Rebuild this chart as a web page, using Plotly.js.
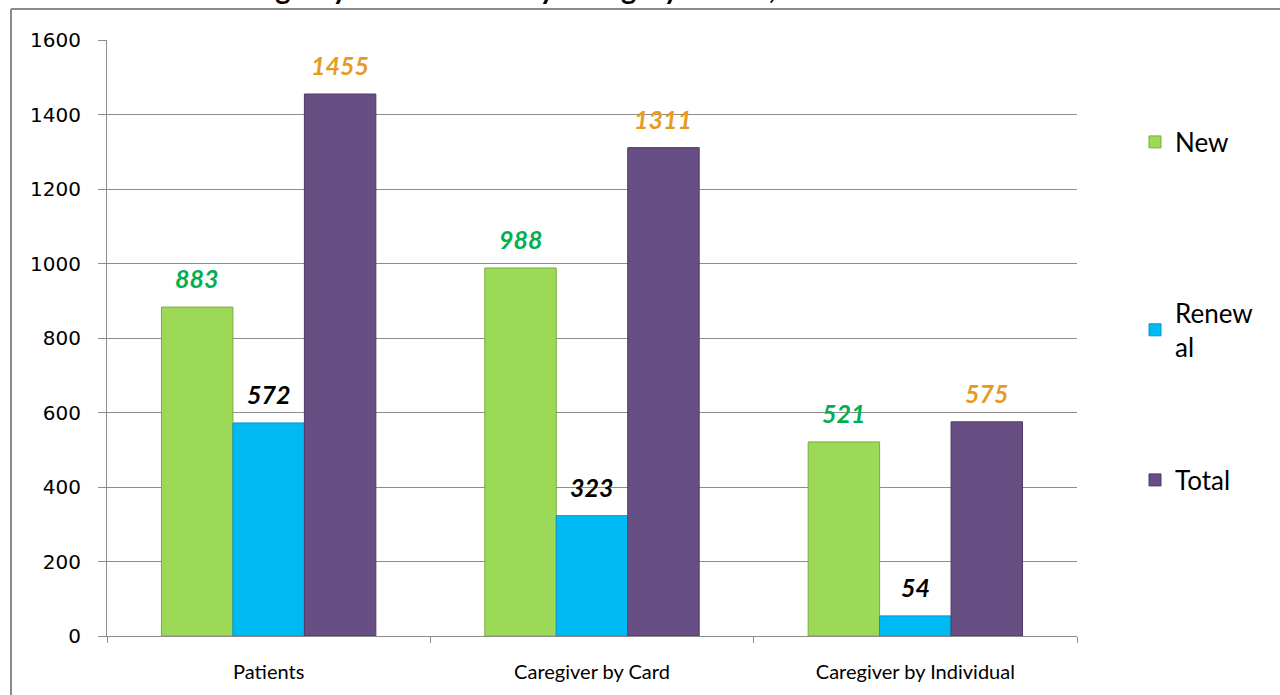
<!DOCTYPE html>
<html>
<head>
<meta charset="utf-8">
<script src="https://cdn.plot.ly/plotly-3.0.1.min.js"></script>
<style>
  html, body { margin: 0; padding: 0; background: #fff; }
  #chart { width: 1280px; height: 695px; }
</style>
</head>
<body>
<div id="chart"></div>
<script>
const categories = ["Patients", "Caregiver by Card", "Caregiver by Individual"];
const seriesNames = ["New", "Renewal", "Total"];
const legendLabels = ["New", "Renew<br>al", "Total"];
const newValues = [883, 988, 521];
const renewalValues = [572, 323, 54];
const totalValues = [1455, 1311, 575];
const yTicks = [0, 200, 400, 600, 800, 1000, 1200, 1400, 1600];
const titleText = "Registry Cards Issued by Category \u2013 New, Renewal and Totals";

const seriesValues = [newValues, renewalValues, totalValues];
const fillColors = ["#9bd956", "#00baf4", "#684f83"];
const lineColors = ["#79ad3e", "#0a94c4", "#4f3a66"];
const labelColors = ["#00b050", "#000000", "#e69b1f"];
const legendIds = ["legend", "legend2", "legend3"];

const bargap = 0.337;
const barWidth = (1 - bargap) / 3;

const traces = seriesValues.map((vals, j) => ({
  type: "bar",
  name: legendLabels[j],
  x: categories,
  y: vals,
  legend: legendIds[j],
  marker: { color: fillColors[j], line: { color: lineColors[j], width: 1 } },
  hoverinfo: "skip"
}));

const annotations = [];
seriesValues.forEach((vals, j) => {
  vals.forEach((v, i) => {
    annotations.push({
      xref: "x", yref: "y",
      x: i + (j - 1) * barWidth,
      y: v,
      text: "<b><i>" + v + "</i></b>",
      showarrow: false,
      yanchor: "bottom",
      yshift: 12,
      font: { family: "Lato, sans-serif", size: 25, color: labelColors[j] }
    });
  });
});

// title, mostly above the page top like the reference
annotations.push({
  xref: "paper", yref: "paper",
  x: 0.545, y: 1.0,
  yshift: 33,
  xanchor: "center", yanchor: "bottom",
  text: "<b>" + titleText + "</b>",
  showarrow: false,
  font: { family: "Lato, sans-serif", size: 29, color: "#000" }
});

const plotL = 107, plotR = 1077, plotT = 40, plotB = 636;
const pw = plotR - plotL, ph = plotB - plotT;
const px2x = p => (p - plotL) / pw;
const py2y = p => (plotB - p) / ph;

const legendFont = { family: "Lato, sans-serif", size: 26, color: "#000" };
const legendCommon = (yc) => ({
  x: px2x(1135), y: py2y(yc), xref: "paper", yref: "paper",
  xanchor: "left", yanchor: "middle",
  bgcolor: "rgba(0,0,0,0)", font: legendFont
});

const layout = {
  width: 1280, height: 695,
  margin: { l: plotL, r: 1280 - plotR, t: plotT, b: 695 - plotB },
  paper_bgcolor: "#fff", plot_bgcolor: "#fff",
  barmode: "group", bargap: bargap, bargroupgap: 0,
  showlegend: true,
  legend: legendCommon(142),
  legend2: legendCommon(330),
  legend3: legendCommon(480),
  xaxis: {
    type: "category",
    showgrid: false,
    showline: true, linecolor: "#8c8c8c", linewidth: 1,
    ticks: "outside", tickson: "boundaries", ticklen: 6, tickcolor: "#8c8c8c",
    ticklabelstandoff: 18,
    tickfont: { family: "Lato, sans-serif", size: 20, color: "#000" },
    zeroline: false, fixedrange: true
  },
  yaxis: {
    range: [0, 1600],
    tickvals: yTicks,
    showgrid: true, gridcolor: "#8c8c8c", gridwidth: 1,
    showline: true, linecolor: "#8c8c8c", linewidth: 1,
    ticks: "outside", ticklen: 8, tickcolor: "#8c8c8c",
    ticklabelstandoff: 13,
    tickfont: { family: "DejaVu Sans, sans-serif", size: 20, color: "#000" },
    zeroline: true, zerolinecolor: "#8c8c8c", zerolinewidth: 1,
    fixedrange: true
  },
  annotations: annotations,
  shapes: [
    { type: "line", xref: "paper", yref: "paper", x0: px2x(11), x1: px2x(11), y0: py2y(700), y1: py2y(9), line: { color: "#8c8c8c", width: 2 } },
    { type: "line", xref: "paper", yref: "paper", x0: px2x(11), x1: px2x(1290), y0: py2y(9), y1: py2y(9), line: { color: "#8c8c8c", width: 2 } }
  ]
};

Plotly.newPlot("chart", traces, layout, { displayModeBar: false, staticPlot: true });
</script>
</body>
</html>
